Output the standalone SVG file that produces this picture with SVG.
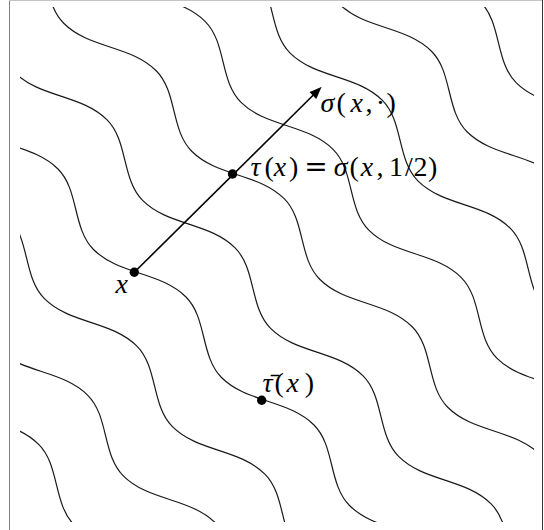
<svg xmlns="http://www.w3.org/2000/svg" width="544" height="530" viewBox="0 0 544 530">
<style>
.lvl{fill:none;stroke:#1a1a1a;stroke-width:1.7}
.flow{stroke:#000;stroke-width:1.6;fill:none}
.pt{fill:#000}
text{font-family:"Liberation Serif","Times New Roman",serif;font-size:28px;fill:#000}
.i{font-style:italic}
.eq{font-family:"DejaVu Serif",serif}
</style>
<defs>
<clipPath id="clip"><rect x="20" y="7" width="514" height="515"/></clipPath>
<path id="wave" class="lvl" transform="matrix(0.5,0.5,0.5,-0.5,0,0)" d="M-169,-156 c25.33,0 47.17,10.97 70,22.5 c22.83,11.53 44.67,22.5 70,22.5 c20.99,0 39.08,-10.97 58,-22.5 c18.92,-11.53 37.01,-22.5 58,-22.5 c25.33,0 47.17,10.97 70,22.5 c22.83,11.53 44.67,22.5 70,22.5 c20.99,0 39.08,-10.97 58,-22.5 c18.92,-11.53 37.01,-22.5 58,-22.5 c25.33,0 47.17,10.97 70,22.5 c22.83,11.53 44.67,22.5 70,22.5 c20.99,0 39.08,-10.97 58,-22.5 c18.92,-11.53 37.01,-22.5 58,-22.5 c25.33,0 47.17,10.97 70,22.5 c22.83,11.53 44.67,22.5 70,22.5 c20.99,0 39.08,-10.97 58,-22.5 c18.92,-11.53 37.01,-22.5 58,-22.5 c25.33,0 47.17,10.97 70,22.5 c22.83,11.53 44.67,22.5 70,22.5 c20.99,0 39.08,-10.97 58,-22.5 c18.92,-11.53 37.01,-22.5 58,-22.5"/>
<marker id="ah" markerUnits="userSpaceOnUse" markerWidth="16" markerHeight="12" viewBox="0 0 16 12" refX="12" refY="6" orient="auto"><path d="M16,6 C12.5,7 8,9.2 3.5,10.8 L3.5,1.2 C8,2.8 12.5,5 16,6Z" fill="#000"/></marker>
</defs>
<g id="frame">
<line x1="9.5" y1="0" x2="9.5" y2="530" stroke="#808080" stroke-width="1"/>
<line x1="9" y1="0.5" x2="543" y2="0.5" stroke="#c4c4c4" stroke-width="1"/>
<line x1="542.5" y1="0" x2="542.5" y2="530" stroke="#333" stroke-width="1"/>
</g>
<g id="level-curves" clip-path="url(#clip)">
<use href="#wave" transform="translate(-147.3,147.45)"/>
<use href="#wave" transform="translate(-98.2,98.3)"/>
<use href="#wave" transform="translate(-49.1,49.15)"/>
<use href="#wave"/>
<use href="#wave" transform="translate(49.1,-49.15)"/>
<use href="#wave" transform="translate(98.2,-98.3)"/>
<use href="#wave" transform="translate(147.3,-147.45)"/>
<use href="#wave" transform="translate(196.4,-196.6)"/>
<use href="#wave" transform="translate(245.5,-245.75)"/>
<use href="#wave" transform="translate(294.6,-294.9)"/>
</g>
<g id="flow-arrow">
<line x1="134.3" y1="272.3" x2="318.9" y2="89.5" class="flow" marker-end="url(#ah)"/>
<text y="111.5"><tspan x="320.5" class="i">σ</tspan><tspan x="336.5">(</tspan><tspan x="350.5" class="i">x</tspan><tspan x="365.5">,</tspan><tspan x="375.8">·</tspan><tspan x="386.5">)</tspan></text>
</g>
<g id="node-x">
<circle class="pt" cx="134.3" cy="272.3" r="4.7"/>
<text x="115.5" y="293" class="i">x</text>
</g>
<g id="node-tau">
<circle class="pt" cx="232.5" cy="174" r="4.7"/>
<text y="176"><tspan x="250.5" class="i">τ</tspan><tspan x="264.6">(</tspan><tspan x="273.8" class="i">x</tspan><tspan x="289">)</tspan><tspan x="304.3" class="eq">=</tspan><tspan x="333.8" class="i">σ</tspan><tspan x="349.6">(</tspan><tspan x="360.8" class="i">x</tspan><tspan x="376.5">,</tspan><tspan x="389">1</tspan><tspan x="405">/</tspan><tspan x="413.6">2</tspan><tspan x="428">)</tspan></text>
</g>
<g id="node-taubar">
<circle class="pt" cx="261.7" cy="400.3" r="4.7"/>
<text y="392"><tspan x="262.5" class="i">τ̄</tspan><tspan x="274.5">(</tspan><tspan x="286.5" class="i">x</tspan><tspan x="304.8">)</tspan></text>
</g>
</svg>
